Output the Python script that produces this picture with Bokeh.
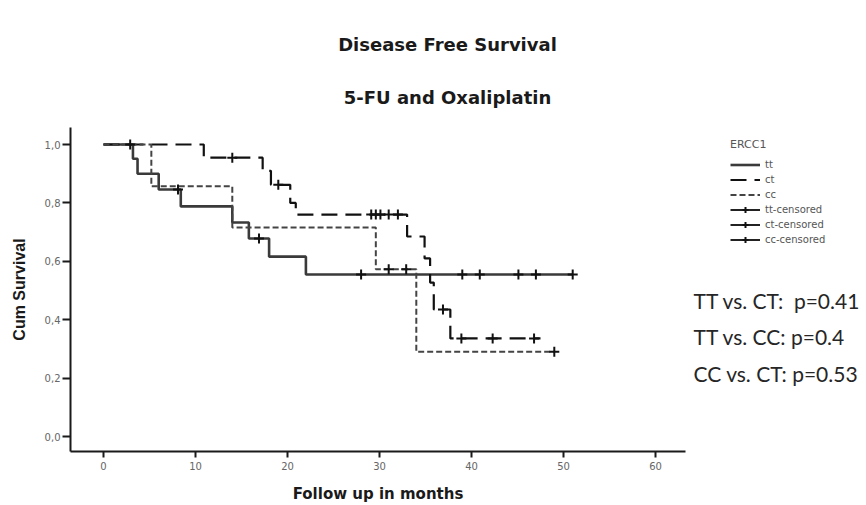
import numpy as np
from bokeh.plotting import figure
from bokeh.models import Range1d, FixedTicker, Label, Legend, LegendItem
from bokeh.embed import file_html
from bokeh.resources import INLINE

# Kaplan-Meier curves, ERCC1 genotype groups (time in months, survival after each step)
tt_time = [0, 3.2, 3.7, 6.0, 8.4, 14.0, 15.8, 18.0, 22.0, 51.0]
tt_surv = [1.0, 0.951, 0.900, 0.846, 0.788, 0.733, 0.678, 0.616, 0.555, 0.555]
tt_censor = [2.9, 8.1, 16.9, 28.0, 39.0, 40.9, 45.1, 47.0, 51.0]

ct_time = [0, 10.9, 17.3, 18.2, 20.3, 20.9, 33.0, 34.9, 35.5, 35.9, 37.7, 47.5]
ct_surv = [1.0, 0.955, 0.910, 0.862, 0.800, 0.760, 0.685, 0.610, 0.527, 0.435, 0.336, 0.336]
ct_censor = [14.0, 19.0, 29.1, 29.6, 30.1, 31.0, 32.0, 36.9, 38.9, 42.3, 46.8]

cc_time = [0, 5.2, 14.0, 29.6, 34.0, 49.0]
cc_surv = [1.0, 0.857, 0.716, 0.573, 0.290, 0.290]
cc_censor = [31.0, 32.9, 49.0]

group_labels = ["tt", "ct", "cc"]
x_ticks = [0, 10, 20, 30, 40, 50, 60]
y_ticks = [0.0, 0.2, 0.4, 0.6, 0.8, 1.0]
y_tick_labels = ["0,0", "0,2", "0,4", "0,6", "0,8", "1,0"]
pvalue_lines = ["TT vs. CT:\u00a0 p=0.41", "TT vs. CC: p=0.4", "CC vs. CT: p=0.53"]


def surv_at(times, surv, t):
    """Survival of a step curve just after time t."""
    i = np.searchsorted(np.asarray(times), t, side="right") - 1
    return float(np.asarray(surv)[max(i, 0)])


# page geometry (pixels): the frame covers the whole page, the two axes are
# pinned at fixed locations and bounded to the plotting area
W, H = 866, 505
AX_LEFT, AX_RIGHT, AX_TOP, AX_BOTTOM = 70, 685, 127, 451
X0_PX, X_PER = 103.0, 9.2      # pixel of month 0, pixels per month
Y0_PX, Y_PER = 436.0, 292.0    # pixel of survival 0, pixels per unit


def px_x(px):
    return (px - X0_PX) / X_PER


def px_y(py):
    return (Y0_PX - py) / Y_PER


p = figure(width=W, height=H, output_backend="svg", toolbar_location=None,
           x_range=Range1d(px_x(0), px_x(W)),
           y_range=Range1d(px_y(H), px_y(0)),
           min_border=0)
p.outline_line_color = None
p.grid.visible = False
p.background_fill_color = "white"
p.border_fill_color = "white"

for ax in (p.xaxis[0], p.yaxis[0]):
    ax.axis_line_color = "#1a1a1a"
    ax.axis_line_width = 2
    ax.major_tick_line_color = "#1a1a1a"
    ax.major_tick_line_width = 2
    ax.major_tick_in = 0
    ax.minor_tick_line_color = None
    ax.major_label_text_font = "DejaVu Sans"
    ax.major_label_text_font_size = "10px"
    ax.major_label_text_color = "#666666"

p.xaxis.fixed_location = px_y(AX_BOTTOM)
p.xaxis.bounds = (px_x(AX_LEFT), px_x(AX_RIGHT))
p.xaxis.ticker = FixedTicker(ticks=x_ticks)
p.xaxis.major_tick_out = 6
p.xaxis.major_label_standoff = 4

p.yaxis.fixed_location = px_x(AX_LEFT)
p.yaxis.bounds = (px_y(AX_BOTTOM), px_y(AX_TOP))
p.yaxis.ticker = FixedTicker(ticks=y_ticks)
p.yaxis.major_label_overrides = {t: s for t, s in zip(y_ticks, y_tick_labels)}
p.yaxis.major_tick_out = 8
p.yaxis.major_label_standoff = 2

# axis titles
p.add_layout(Label(x=px_x((AX_LEFT + AX_RIGHT) / 2), y=px_y(493), text="Follow up in months",
                   text_align="center", text_baseline="middle", text_font="DejaVu Sans",
                   text_font_style="bold", text_font_size="15px", text_color="#1a1a1a"))
p.add_layout(Label(x=px_x(19), y=px_y((AX_TOP + AX_BOTTOM) / 2), text="Cum Survival",
                   angle=np.pi / 2, text_align="center", text_baseline="middle",
                   text_font="Liberation Sans", text_font_style="bold",
                   text_font_size="16px", text_color="#1a1a1a"))

# survival curves
r_tt = p.step(tt_time, tt_surv, mode="after", line_color="#3a3a3a", line_width=2.6)
r_ct = p.step(ct_time, ct_surv, mode="after", line_color="#111111", line_width=2.2,
              line_dash="16 8")
r_cc = p.step(cc_time, cc_surv, mode="after", line_color="#444444", line_width=2.0,
              line_dash="6 3")

# censored observations; each gets a legend key of a line crossed by a tick
censor_renderers = []
for times, surv, cens in ((tt_time, tt_surv, tt_censor),
                          (ct_time, ct_surv, ct_censor),
                          (cc_time, cc_surv, cc_censor)):
    ys = [surv_at(times, surv, t) for t in cens]
    r = p.scatter(cens, ys, marker="cross", size=10, line_width=2, line_color="#111111")
    key_line = p.line(x=[np.nan], y=[np.nan], line_color="#222222", line_width=2)
    censor_renderers.append((key_line, r))

items = [LegendItem(label=group_labels[0], renderers=[r_tt]),
         LegendItem(label=group_labels[1], renderers=[r_ct]),
         LegendItem(label=group_labels[2], renderers=[r_cc])]
for lab, (key_line, r) in zip(group_labels, censor_renderers):
    items.append(LegendItem(label=lab + "-censored", renderers=[key_line, r]))

legend = Legend(items=items, title="ERCC1", location=(730, H - 247),
                glyph_width=30, glyph_height=15, label_height=15, spacing=0,
                padding=0, margin=0, label_standoff=5, label_text_font="DejaVu Sans",
                label_text_font_size="10px", label_text_color="#555555",
                title_text_font="DejaVu Sans", title_text_font_size="11px",
                title_text_font_style="normal", title_text_color="#555555",
                title_standoff=6, border_line_color=None,
                background_fill_alpha=0, click_policy="none")
p.add_layout(legend)

# titles
for text, cy in (("Disease Free Survival", 44), ("5-FU and Oxaliplatin", 97)):
    p.add_layout(Label(x=px_x(447), y=px_y(cy), text=text, text_align="center",
                       text_baseline="middle", text_font="DejaVu Sans",
                       text_font_style="bold", text_font_size="18px",
                       text_color="#1a1a1a"))

# log-rank comparisons
for text, base in zip(pvalue_lines, (300, 336, 373)):
    p.add_layout(Label(x=px_x(693), y=px_y(base), text=text, text_align="left",
                       text_baseline="alphabetic", text_font="Lato",
                       text_font_size="21px", text_color="#262626"))

open("out.html", "w").write(file_html(p, INLINE))
